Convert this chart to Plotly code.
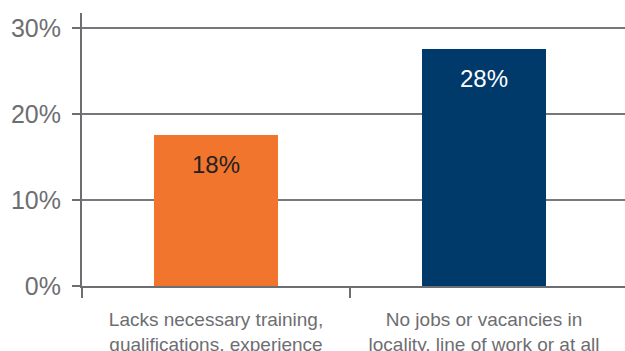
import plotly.graph_objects as go

# Share of respondents citing each barrier
categories = [
    "Lacks necessary training,<br>qualifications, experience",
    "No jobs or vacancies in<br>locality, line of work or at all",
]
values = [17.5, 27.5]
bar_colors = ["#F1752D", "#003A6B"]
label_colors = ["#231F20", "#FFFFFF"]
y_ticks = [0, 10, 20, 30]
y_tick_text = ["0%", "10%", "20%", "30%"]

GREY = "#6D6E71"
FONT = "Liberation Sans, Arial, Helvetica, sans-serif"

fig = go.Figure(
    go.Bar(
        x=categories,
        y=values,
        marker=dict(color=bar_colors, line=dict(width=0)),
        width=0.466,
        hoverinfo="skip",
    )
)

# value labels sitting just inside the top of each bar
for cat, val, col in zip(categories, values, label_colors):
    fig.add_annotation(
        x=cat, y=val, text=f"{val:.0f}%", showarrow=False,
        yanchor="top", yshift=-14,
        font=dict(family=FONT, size=24, color=col),
    )

fig.update_layout(
    width=625, height=351,
    margin=dict(l=82, r=0, t=13, b=65, autoexpand=False),
    paper_bgcolor="white", plot_bgcolor="white",
    showlegend=False,
    bargap=0,
    font=dict(family=FONT, color=GREY),
)

fig.update_xaxes(
    type="category",
    range=[-0.5, 1.526],
    automargin=False,
    showline=True, linecolor=GREY, linewidth=2,
    showgrid=False, zeroline=False,
    ticks="",
    tickfont=dict(family=FONT, size=19, color=GREY),
    ticklabelstandoff=15,
    minor=dict(tickvals=[-0.5, 0.5], ticks="outside", ticklen=10,
               tickwidth=2, tickcolor=GREY, showgrid=False),
)

fig.update_yaxes(
    range=[0, 31.74],
    automargin=False,
    tickvals=y_ticks, ticktext=y_tick_text,
    showline=True, linecolor=GREY, linewidth=2,
    showgrid=True, gridcolor="#77787B", gridwidth=1.7,
    zeroline=False,
    ticks="outside", ticklen=8, tickwidth=2, tickcolor=GREY,
    tickfont=dict(family=FONT, size=25, color=GREY),
    ticklabelstandoff=6,
)

fig.write_html("out.html")
